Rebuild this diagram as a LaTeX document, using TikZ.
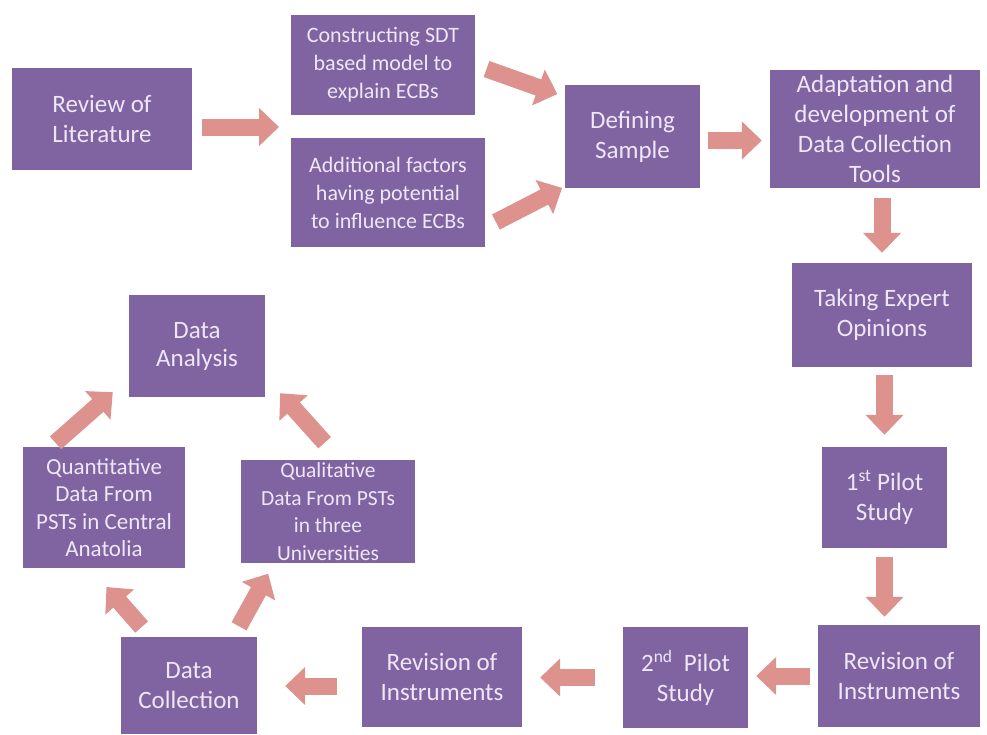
\documentclass[tikz,border=0pt]{standalone}
\usepackage{fontspec}
\setmainfont{Carlito}
\usepackage{xcolor}
\usetikzlibrary{arrows.meta}
\definecolor{boxpurple}{HTML}{8064A2}
\definecolor{boxtext}{HTML}{EFE6F7}
\definecolor{flowpink}{HTML}{DE928E}

\begin{document}
\begin{tikzpicture}[x=1pt,y=-1pt,
  stepbox/.style={fill=boxpurple,text=boxtext,align=center,inner sep=0pt,
    font=\fontsize{25}{30}\selectfont},
  smallbox/.style={stepbox,font=\fontsize{22}{28}\selectfont},
  flow/.style={flowpink,line width=17pt,
    -{Triangle[width=37pt,length=20pt]}}]
\useasboundingbox (0,0) rectangle (987,734);
% top row
\node [stepbox,minimum width=180pt,minimum height=102pt] (review) at (102,119) {Review of\\Literature};
\node [smallbox,minimum width=184pt,minimum height=100pt] (sdt) at (383,65) {Constructing SDT\\based model to\\explain ECBs};
\node [smallbox,minimum width=194pt,minimum height=109pt] (factors) at (388,192.5) {Additional factors\\having potential\\to influence ECBs};
\node [stepbox,minimum width=135pt,minimum height=103pt] (sample) at (632.5,136.5) {Defining\\Sample};
\node [stepbox,minimum width=210pt,minimum height=118pt] (tools) at (875,129) {Adaptation and\\development of\\Data Collection\\Tools};
% right column
\node [stepbox,minimum width=180pt,minimum height=104pt] (expert) at (882,315) {Taking Expert\\Opinions};
\node [stepbox,minimum width=125pt,minimum height=101pt] (pilotA) at (884.5,497.5) {1\textsuperscript{st} Pilot\\Study};
\node [stepbox,minimum width=162pt,minimum height=102pt] (revA) at (899,676) {Revision of\\Instruments};
% bottom row
\node [stepbox,minimum width=125pt,minimum height=101pt] (pilotB) at (685.5,677.5) {2\textsuperscript{nd}~ Pilot\\Study};
\node [stepbox,minimum width=160pt,minimum height=100pt] (revB) at (442,677) {Revision of\\Instruments};
\node [stepbox,minimum width=136pt,minimum height=97pt] (collect) at (189,685.5) {Data\\Collection};
% left cycle
\node [smallbox,font=\fontsize{23}{27.5}\selectfont,minimum width=162pt,minimum height=121pt] (quant) at (104,507.5) {Quantitative\\Data From\\PSTs in Central\\Anatolia};
\node [smallbox,font=\fontsize{21.5}{27.5}\selectfont,minimum width=174pt,minimum height=103pt] (qual) at (328,511.5) {Qualitative\\Data From PSTs\\in three\\Universities};
\node [stepbox,font=\fontsize{25}{28}\selectfont,minimum width=136pt,minimum height=102pt] (analysis) at (197,346) {Data\\Analysis};
%
\coordinate (gap) at (289,127);
\draw [flow,shorten <=10pt,shorten >=10pt] ([yshift=-8pt]review.east) -- (gap);
\draw [flow,shorten <=12pt,shorten >=8pt] (sdt.east) -- ([yshift=-12pt]sample.north west);
\draw [flow,shorten <=12pt,shorten >=3pt] ([yshift=-35pt]factors.east) -- ([yshift=-50pt]sample.west);
\draw [flow,shorten <=8pt,shorten >=8pt] ([yshift=-4pt]sample.east) -- ([yshift=-4pt]sample.east -| tools.west);
\draw [flow,shorten <=10pt,shorten >=10pt] (expert.north |- tools.south) -- (expert.north);
\draw [flow,shorten <=8pt,shorten >=12pt] (pilotA.north |- expert.south) -- (pilotA.north);
\draw [flow,shorten <=9pt,shorten >=8pt] (pilotA.south) -- (pilotA.south |- revA.north);
\draw [flow,shorten <=8pt,shorten >=8pt] (revA.west) -- (revA.west -| pilotB.east);
\draw [flow,shorten <=28pt,shorten >=18pt] (pilotB.west) -- (pilotB.west -| revB.east);
\draw [flow,shorten <=25pt,shorten >=28pt] ([yshift=-9pt]revB.west) -- ([yshift=-9pt]revB.west -| collect.east);
\draw [flow,shorten <=13pt,shorten >=25pt] ([xshift=-107pt]collect.north east) -- ([xshift=-14pt]quant.south);
\draw [flow,shorten <=12pt,shorten >=12pt] ([xshift=-24pt]collect.north east) -- ([xshift=-54pt]qual.south);
\draw [flow,shorten <=6pt] ([xshift=-53pt]quant.north) -- ([xshift=-16pt,yshift=5pt]analysis.south west);
\draw [flow,shorten <=23pt] ([xshift=12pt]qual.north) -- ([xshift=15pt,yshift=4pt]analysis.south east);
\end{tikzpicture}
\end{document}
